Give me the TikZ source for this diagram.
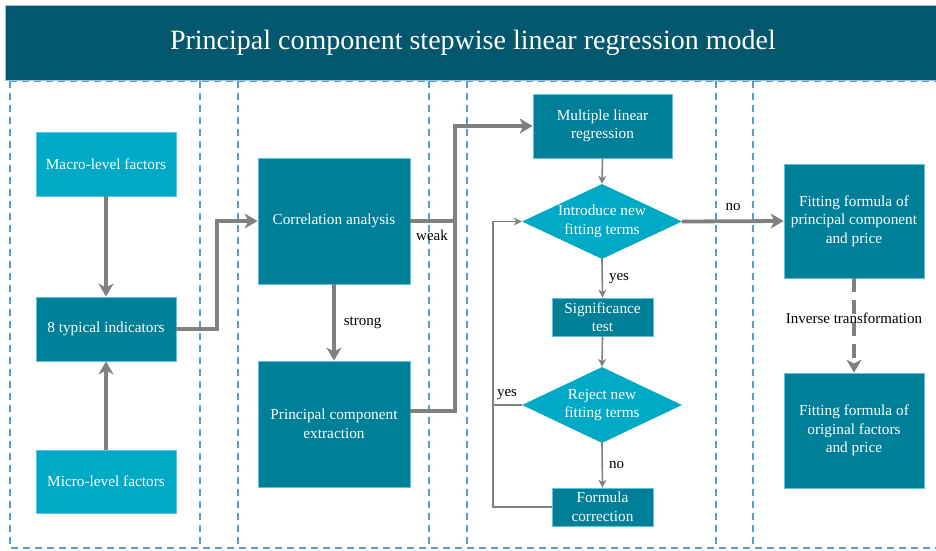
\documentclass[tikz,border=0pt]{standalone}
\usepackage{fontspec}
\setmainfont{Liberation Serif}
\usetikzlibrary{shapes.geometric,arrows.meta}
\definecolor{banner}{HTML}{03586F}
\definecolor{darkbox}{HTML}{007F99}
\definecolor{lightbox}{HTML}{00AAC6}
\definecolor{edgec}{HTML}{5FC3DC}
\definecolor{dashc}{HTML}{5B9BD5}
\definecolor{linec}{HTML}{808080}
\tikzset{
  darkn/.style={draw=edgec,line width=0.8pt,fill=darkbox,text=white,align=center,inner sep=2pt,font=\fontsize{15.3}{18.5}\selectfont},
  lightn/.style={darkn,fill=lightbox},
  diam/.style={diamond,fill=lightbox,inner sep=0pt},
  dtext/.style={text=white,align=center,font=\fontsize{15.3}{18.5}\selectfont},
  lbl/.style={text=black,font=\fontsize{15}{17}\selectfont,inner sep=0pt},
  colline/.style={draw=dashc,line width=1.5pt,dash pattern=on 7pt off 5pt},
  thickarrow/.style={draw=linec,line width=3.8pt,-{Stealth[length=13pt,width=15pt,inset=4pt]}},
  thickline/.style={draw=linec,line width=3.8pt},
  thinarrow/.style={draw=linec,line width=1.6pt,-{Stealth[length=8pt,width=8pt,inset=2.5pt]}},
  thinline/.style={draw=linec,line width=1.6pt},
}
\begin{document}
\begin{tikzpicture}[x=1pt,y=-1pt]
\useasboundingbox (0,0) rectangle (936,550);
% dashed frame and column separators
\draw[colline] (10,81) -- (10,548) -- (936,548);
\draw[colline] (10,81) -- (936,81);
\foreach \xx in {200,238,429,467,716,753}{\draw[colline] (\xx,81) -- (\xx,548);}
% banner
\node[draw=dashc!60,line width=0.8pt,fill=banner,minimum width=935pt,minimum height=75pt,inner sep=0pt,anchor=north west,text=white,font=\fontsize{28}{32}\selectfont] (title) at (5,5) {Principal component stepwise linear regression model};
% nodes
\node[lightn,minimum width=140pt,minimum height=64pt] (macro) at (106,164) {Macro-level factors};
\node[darkn,minimum width=140pt,minimum height=64pt] (ind) at (106,329) {8 typical indicators};
\node[lightn,minimum width=140pt,minimum height=63pt] (micro) at (106,481.5) {Micro-level factors};
\node[darkn,minimum width=152pt,minimum height=126pt] (corr) at (334,221) {Correlation analysis};
\node[darkn,minimum width=152pt,minimum height=126pt] (pce) at (334,424) {Principal component\\extraction};
\node[darkn,minimum width=139pt,minimum height=64pt] (mlr) at (602.5,126) {Multiple linear\\regression};
\node[diam,minimum width=160pt,minimum height=75pt] (intro) at (602,221.5) {};
\node[dtext] (introt) at (intro.center) {Introduce new\\fitting terms};
\node[darkn,minimum width=101pt,minimum height=38pt,inner sep=0pt] (sig) at (602.5,317) {Significance\\test};
\node[diam,minimum width=160pt,minimum height=76pt] (rej) at (602,405) {};
\node[dtext] (rejt) at (rej.center) {Reject new\\fitting terms};
\node[darkn,minimum width=101pt,minimum height=38pt,inner sep=0pt] (fc) at (602.5,507) {Formula\\correction};
\node[darkn,minimum width=140pt,minimum height=114pt] (ffp) at (854,221) {Fitting formula of\\principal component\\and price};
\node[darkn,minimum width=140pt,minimum height=115pt] (ffo) at (854,430.5) {Fitting formula of\\original factors\\and price};
% connectors, left part
\draw[thickarrow] (macro.south) -- (ind.north);
\draw[thickarrow] (micro.north) -- (ind.south);
\coordinate (jl) at (217,329);
\draw[thickarrow] (ind.east) -- (jl) |- (corr.west);
\draw[thickarrow] (corr.south) -- (pce.north) node[lbl,midway,right=8pt] (strong) {strong};
\coordinate (jx) at (455,126);
\draw[thickline] (corr.east) -- ([xshift=2pt]corr.east -| jx);
\node[lbl] (weak) at (432,235) {weak};
\draw[thickarrow] ([yshift=13pt]pce.east) -| (jx) -- (mlr.west);
% flowchart
\draw[thinarrow] (mlr.south) -- (intro.north);
\draw[thinarrow] (intro.south) -- (sig.north) node[lbl,midway,right=6pt] (yes1) {yes};
\draw[thinarrow] (sig.south) -- (rej.north);
\draw[thinarrow] (rej.south) -- (fc.north) node[lbl,midway,right=6pt] (no1) {no};
\coordinate (lx) at (493,0);
\draw[thinarrow] (fc.west) -- (fc.west -| lx) -- (intro.west -| lx) -- (intro.west);
\draw[thinline] (rej.west) -- (rej.west -| lx);
\node[lbl] (yes2) at (507,395) {yes};
\draw[thickarrow] (intro.east) -- (ffp.west);
\node[lbl] (no2) at (733,207) {no};
\draw[thickarrow,dash pattern=on 14pt off 8pt] (ffp.south) -- (ffo.north);
\node[lbl] (inv) at (854,318) {Inverse transformation};
\end{tikzpicture}
\end{document}
